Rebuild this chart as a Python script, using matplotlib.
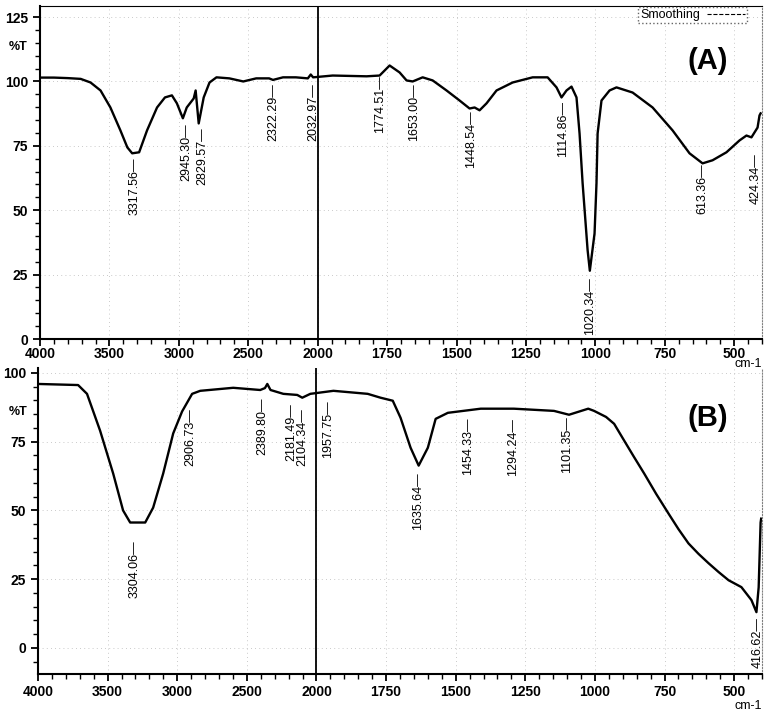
import numpy as np
import matplotlib
matplotlib.use('Agg')
import matplotlib.pyplot as plt
from matplotlib.lines import Line2D
from matplotlib.ticker import FixedLocator, MultipleLocator

plt.rcParams['font.family'] = ['Liberation Sans', 'DejaVu Sans']

# spectrum (A): wavenumber (cm-1) and %T
wn_a = [4000, 3900, 3800, 3707, 3636, 3564, 3493, 3421, 3371, 3336, 3286, 3229,
        3157, 3100, 3050, 3014, 2971, 2943, 2893, 2879, 2857, 2821, 2779, 2729,
        2636, 2536, 2443, 2350, 2322, 2250, 2157, 2071, 2050, 2033, 1946, 1824,
        1777, 1741, 1705, 1680, 1658, 1622, 1586, 1536, 1489, 1453, 1435, 1417,
        1392, 1356, 1298, 1226, 1172, 1140, 1122, 1104, 1086, 1068, 1057, 1046,
        1028, 1020, 1003, 996, 992, 978, 949, 924, 866, 794, 722, 661, 614, 578,
        528, 481, 456, 438, 427, 416, 409, 405]
t_a = [101.5, 101.5, 101.3, 101.0, 99.6, 96.5, 89.9, 81.0, 74.4, 72.1, 72.5, 81.0,
       89.9, 93.8, 94.6, 91.5, 85.7, 89.9, 93.4, 96.5, 83.7, 93.8, 99.6, 101.6,
       101.2, 100.0, 101.2, 101.2, 100.6, 101.6, 101.6, 101.2, 102.7, 101.6, 102.3, 102.0,
       102.3, 106.2, 103.5, 100.4, 100.0, 101.6, 100.4, 96.5, 92.6, 89.5, 89.9, 88.8,
       91.5, 96.5, 99.6, 101.6, 101.6, 97.7, 93.8, 96.5, 98.0, 93.8, 79.8, 60.5,
       34.5, 26.5, 41.0, 60.5, 79.8, 92.6, 96.5, 97.7, 95.7, 89.9, 81.0, 72.1, 68.2, 69.4,
       72.5, 77.1, 79.0, 78.3, 80.2, 82.1, 86.8, 87.6]
peaks_a = ['3317.56', '2945.30', '2829.57', '2322.29', '2032.97', '1774.51', '1653.00',
           '1448.54', '1114.86', '1020.34', '613.36', '424.34']
peak_top_a = [70.5, 83.7, 82.2, 99.2, 99.2, 102.3, 99.2, 88.8, 92.6, 24.0, 68.2, 72.0]

# spectrum (B)
wn_b = [4000, 3712, 3648, 3554, 3460, 3389, 3338, 3230, 3173, 3101, 3029, 2965,
        2893, 2835, 2598, 2404, 2370, 2353, 2330, 2238, 2138, 2102, 2044, 1939,
        1816, 1770, 1726, 1698, 1662, 1633, 1600, 1572, 1528, 1410, 1291, 1147,
        1093, 1024, 1003, 960, 931, 895, 860, 823, 780, 736, 700, 664, 628, 592,
        556, 520, 474, 438, 420, 412, 405, 403]
t_b = [96.0, 95.6, 92.4, 79.0, 63.4, 50.0, 45.6, 45.6, 51.0, 63.4, 78.0, 86.0,
       92.4, 93.5, 94.6, 93.8, 94.5, 96.0, 93.8, 92.4, 92.0, 91.0, 92.4, 93.5,
       92.4, 91.0, 89.9, 83.7, 72.8, 66.3, 72.8, 83.3, 85.5, 87.0, 87.0, 86.2,
       84.8, 87.0, 86.2, 84.0, 81.5, 75.4, 69.5, 63.4, 56.0, 48.9, 43.2, 38.0, 34.2, 30.8,
       27.6, 24.6, 22.1, 17.4, 13.0, 22.0, 45.6, 47.0]
peaks_b = ['3304.06', '2906.73', '2389.80', '2181.49', '2104.34', '1957.75', '1635.64',
           '1454.33', '1294.24', '1101.35', '416.62']
peak_top_b = [39.0, 87.3, 91.0, 89.0, 87.0, 90.0, 63.8, 83.7, 83.7, 84.4, 11.2]

xticks = [4000, 3500, 3000, 2500, 2000, 1750, 1500, 1250, 1000, 750, 500]


def fwd(w):
    w = np.asarray(w, dtype=float)
    return np.where(w > 2000, 2000 + (w - 2000) / 2, w)


def inv(u):
    u = np.asarray(u, dtype=float)
    return np.where(u > 2000, 2000 + (u - 2000) * 2, u)


def setup(ax, yticks, ylim, xpad):
    ax.set_xscale('function', functions=(fwd, inv))
    ax.set_xlim(4000, 400)
    ax.set_ylim(*ylim)
    ax.xaxis.set_major_locator(FixedLocator(xticks))
    minors = list(range(4000, 2000, -100)) + list(range(2000, 399, -50))
    ax.xaxis.set_minor_locator(FixedLocator(minors))
    ax.set_xticklabels([str(t) for t in xticks])
    ax.set_yticks(yticks)
    ax.yaxis.set_minor_locator(MultipleLocator(5))
    ax.tick_params(which='major', direction='out', length=5, width=1.3,
                   labelsize=10)
    ax.tick_params(axis='x', which='major', pad=xpad)
    ax.tick_params(which='minor', direction='out', length=3.5, width=1.0)
    for lab in ax.get_xticklabels() + ax.get_yticklabels():
        lab.set_fontweight('bold')
    ax.grid(True, which='major', color='0.72', lw=0.6, ls=(0, (1, 4)))
    ax.axvline(2000, color='k', lw=1.3)
    for s in ['left', 'bottom']:
        ax.spines[s].set_linewidth(1.5)
    ax.spines['right'].set_linestyle(':')
    ax.spines['right'].set_color('0.5')


def label_peaks(ax, names, tops):
    for name, top in zip(names, tops):
        ax.text(float(name), top, name + '\u2014', rotation=90, ha='center',
                va='top', fontsize=9)


fig = plt.figure(figsize=(7.67, 7.17), dpi=100)

ax1 = fig.add_axes([40 / 767, 1 - 339 / 717, 722 / 767, 333 / 717])
setup(ax1, [0, 25, 50, 75, 100, 125], (0, 129.3), 0.5)
ax1.plot(wn_a, t_a, color='k', lw=1.7)
label_peaks(ax1, peaks_a, peak_top_a)
ax1.text(0.925, 0.835, '(A)', transform=ax1.transAxes, fontsize=21,
         fontweight='bold', ha='center', va='center')
handle = Line2D([], [], color='k', lw=0.8, ls='--')
leg = ax1.legend([handle], ['Smoothing'], loc='upper right', markerfirst=False,
                 bbox_to_anchor=(0.9875, 1.015), fontsize=9, fancybox=False,
                 borderpad=0.15, handlelength=3.0, handletextpad=0.6,
                 framealpha=1)
leg.get_frame().set_edgecolor('0.4')
leg.get_frame().set_linestyle(':')

ax2 = fig.add_axes([38 / 767, 1 - 674 / 717, 724 / 767, 306 / 717])
setup(ax2, [0, 25, 50, 75, 100], (-9.5, 101.8), 3)
ax2.spines['top'].set_visible(False)
ax2.plot(wn_b, t_b, color='k', lw=1.7)
label_peaks(ax2, peaks_b, peak_top_b)
ax2.text(0.925, 0.837, '(B)', transform=ax2.transAxes, fontsize=21,
         fontweight='bold', ha='center', va='center')

fig.text(18 / 767, 1 - 47 / 717, '%T', fontsize=9, fontweight='bold',
         ha='center', va='center')
fig.text(18 / 767, 1 - 412 / 717, '%T', fontsize=9, fontweight='bold',
         ha='center', va='center')
fig.text(748 / 767, 1 - 364 / 717, 'cm-1', fontsize=9, ha='center', va='center')
fig.text(748 / 767, 1 - 706 / 717, 'cm-1', fontsize=9, ha='center', va='center')

fig.savefig('out.png', dpi=100)
